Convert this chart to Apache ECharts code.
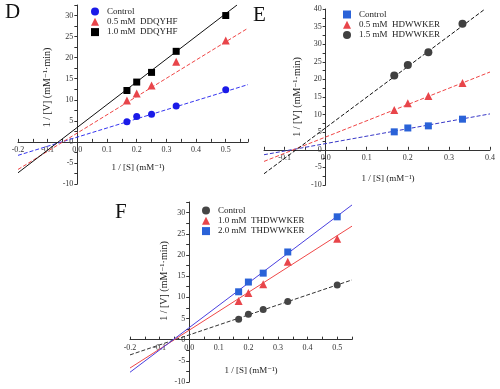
<!DOCTYPE html>
<html>
<head>
<meta charset="utf-8">
<script src="https://cdn.jsdelivr.net/npm/echarts@6/dist/echarts.min.js"></script>
<style>html,body{margin:0;padding:0;background:#fff}#c{width:500px;height:389px}</style>
</head>
<body>
<div id="c"></div>
<script>
// ---- data ----
const xD = [0.167, 0.2, 0.25, 0.333, 0.5];
const dControl = [4.8, 6.0, 6.55, 8.5, 12.4];
const dLow = [9.8, 11.5, 13.4, 19.0, 24.1];
const dHigh = [12.2, 14.2, 16.5, 21.5, 30.0];
const fitDControl = [[-0.2, -3.2], [0.575, 13.6]];
const fitDLow = [[-0.2, -6.55], [0.575, 27.0]];
const fitDHigh = [[-0.2, -7.34], [0.538, 32.5]];

const xE = [0.167, 0.2, 0.25, 0.333];
const eControl = [5.1, 6.2, 6.8, 8.7];
const eLow = [11.3, 13.2, 15.3, 19.0];
const eHigh = [21.1, 24.1, 27.7, 35.8];
const fitEControl = [[-0.15, -1.4], [0.4, 10.2]];
const fitELow = [[-0.15, -3.3], [0.4, 22.1]];
const fitEHigh = [[-0.15, -6.8], [0.388, 40]];

const xF = [0.167, 0.2, 0.25, 0.333, 0.5];
const fControl = [4.8, 6.0, 7.1, 9.0, 12.9];
const fLow = [9.1, 11.0, 13.1, 18.4, 23.8];
const fHigh = [11.3, 13.6, 15.7, 20.7, 29.0];
const fitFControl = [[-0.2, -3.6], [0.55, 14.1]];
const fitFLow = [[-0.2, -6.7], [0.55, 26.8]];
const fitFHigh = [[-0.2, -7.7], [0.55, 31.8]];

const namesD = ['Control', '0.5 mM  DDQYHF', '1.0 mM  DDQYHF'];
const namesE = ['Control', '0.5 mM  HDWWKER', '1.5 mM  HDWWKER'];
const namesF = ['Control', '1.0 mM  THDWWKER', '2.0 mM  THDWWKER'];
const yTitle = '1 / [V] (mM\u207B\u00B9\u00B7min)';
const xTitle = '1 / [S] (mM\u207B\u00B9)';

// ---- chart ----
const SERIF = '"Liberation Serif", "DejaVu Serif", serif';
const pair = (xs, ys) => xs.map((x, i) => [x, ys[i]]);
const xFmt = v => (Math.abs(v * 10 - Math.round(v * 10)) < 1e-6 ? (Math.round(v * 10) / 10).toFixed(1) : '');
const yFmt = v => (Math.abs(v / 5 - Math.round(v / 5)) < 1e-6 ? String(Math.round(v)) : '');

const grids = [
  { left: 18, top: 5, width: 230, height: 179, xr: [-0.2, 0.575], yr: [-10, 32.5] },
  { left: 264, top: 9, width: 226, height: 176, xr: [-0.15, 0.4], yr: [-10, 40] },
  { left: 130, top: 202, width: 222, height: 180, xr: [-0.2, 0.55], yr: [-10, 32.5] }
];

function xAxis(gi, nameGap, namePadLeft) {
  const g = grids[gi];
  const off = -(0 - g.yr[0]) / (g.yr[1] - g.yr[0]) * g.height;
  return {
    type: 'value', gridIndex: gi, min: g.xr[0], max: g.xr[1], interval: 0.05,
    position: 'bottom', offset: off,
    axisLine: { onZero: false, lineStyle: { color: '#333', width: 1 } },
    axisTick: { inside: true, length: 3, lineStyle: { color: '#333' } },
    axisLabel: { formatter: xFmt, fontSize: 8, color: '#333', fontFamily: SERIF, margin: 4, showMaxLabel: true, hideOverlap: false },
    splitLine: { show: false },
    name: xTitle, nameLocation: 'middle', nameGap,
    nameTextStyle: { fontSize: 9, color: '#222', fontFamily: SERIF, padding: [0, 0, 0, namePadLeft] }
  };
}
function yAxis(gi, nameGap, namePad) {
  const g = grids[gi];
  const off = -(0 - g.xr[0]) / (g.xr[1] - g.xr[0]) * g.width;
  return {
    type: 'value', gridIndex: gi, min: g.yr[0], max: g.yr[1], interval: 2.5,
    position: 'left', offset: off,
    axisLine: { show: true, onZero: false, lineStyle: { color: '#333', width: 1 } },
    axisTick: { show: true, inside: false, length: 3, lineStyle: { color: '#333' } },
    axisLabel: { formatter: yFmt, fontSize: 8, color: '#333', fontFamily: SERIF, margin: 4, hideOverlap: false },
    splitLine: { show: false },
    name: yTitle, nameLocation: 'middle', nameGap, nameRotate: 90,
    nameTextStyle: { fontSize: 10, color: '#222', fontFamily: SERIF, padding: namePad }
  };
}
function scatter(name, gi, xs, ys, symbol, color, size) {
  return {
    type: 'scatter', name, xAxisIndex: gi, yAxisIndex: gi, data: pair(xs, ys),
    symbol, symbolSize: size, itemStyle: { color, opacity: 1 }, z: 5
  };
}
function fit(gi, pts, color, dashed) {
  return {
    type: 'line', xAxisIndex: gi, yAxisIndex: gi, data: pts, showSymbol: false, symbol: 'none',
    lineStyle: { color, width: 1, type: dashed ? [4, 2] : 'solid' }, z: 3, silent: true
  };
}
function legend(left, top, names, icons, colors) {
  return {
    orient: 'vertical', left, top, padding: 0, itemWidth: 8, itemHeight: 8, itemGap: 1.3,
    textStyle: { fontSize: 9, lineHeight: 9, color: '#222', fontFamily: SERIF, padding: [0, 0, 0, 3] },
    formatter: n => n.split('|')[1],
    data: names.map((n, i) => ({ name: n, icon: icons[i], itemStyle: { color: colors[i] } })),
    selectedMode: false
  };
}

const cD = ['#1a1ae8', '#e8454a', '#000000'];
const cE = ['#2a62d8', '#e8454a', '#404040'];
const cF = ['#454545', '#e8454a', '#2a62d8'];
const nD = namesD.map(n => 'D|' + n), nE = namesE.map(n => 'E|' + n), nF = namesF.map(n => 'F|' + n);
const letterStyle = { fontFamily: SERIF, fontSize: 21, fontWeight: 'normal', color: '#111' };

const option = {
  backgroundColor: '#fff',
  animation: false,
  title: [
    { text: 'D', left: 5, top: 2, padding: 0, textStyle: letterStyle },
    { text: 'E', left: 253, top: 5, padding: 0, textStyle: letterStyle },
    { text: 'F', left: 115, top: 202, padding: 0, textStyle: letterStyle }
  ],
  grid: grids.map(g => ({ left: g.left, top: g.top, width: g.width, height: g.height, containLabel: false, outerBoundsMode: 'none' })),
  xAxis: [
    xAxis(0, 21, 10),
    xAxis(1, 24, 22),
    xAxis(2, 26, 20)
  ],
  yAxis: [
    yAxis(0, 25, [0, 0, 0, 14]),
    yAxis(1, 23, [0, 0, 0, 0]),
    yAxis(2, 20, [0, 0, 0, 22])
  ],
  legend: [
    legend(91, 7, nD, ['circle', 'triangle', 'rect'], cD),
    legend(343, 10, nE, ['rect', 'triangle', 'circle'], cE),
    legend(202, 206, nF, ['circle', 'triangle', 'rect'], cF)
  ],
  series: [
    fit(0, fitDControl, '#3535f0', true),
    fit(0, fitDLow, '#f04545', true),
    fit(0, fitDHigh, '#111111', false),
    scatter(nD[0], 0, xD, dControl, 'circle', cD[0], 7),
    scatter(nD[1], 0, xD, dLow, 'triangle', cD[1], 8),
    scatter(nD[2], 0, xD, dHigh, 'rect', cD[2], 7),

    fit(1, fitEControl, '#3838c8', true),
    fit(1, fitELow, '#f04545', true),
    fit(1, fitEHigh, '#111111', true),
    scatter(nE[0], 1, xE, eControl, 'rect', cE[0], 7),
    scatter(nE[1], 1, xE, eLow, 'triangle', cE[1], 8),
    scatter(nE[2], 1, xE, eHigh, 'circle', cE[2], 8),

    fit(2, fitFControl, '#333333', true),
    fit(2, fitFLow, '#f04848', false),
    fit(2, fitFHigh, '#4a40e0', false),
    scatter(nF[0], 2, xF, fControl, 'circle', cF[0], 7),
    scatter(nF[1], 2, xF, fLow, 'triangle', cF[1], 8),
    scatter(nF[2], 2, xF, fHigh, 'rect', cF[2], 7)
  ]
};
const chart = echarts.init(document.getElementById('c'), null, { renderer: 'canvas' });
chart.setOption(option);
</script>
</body>
</html>
